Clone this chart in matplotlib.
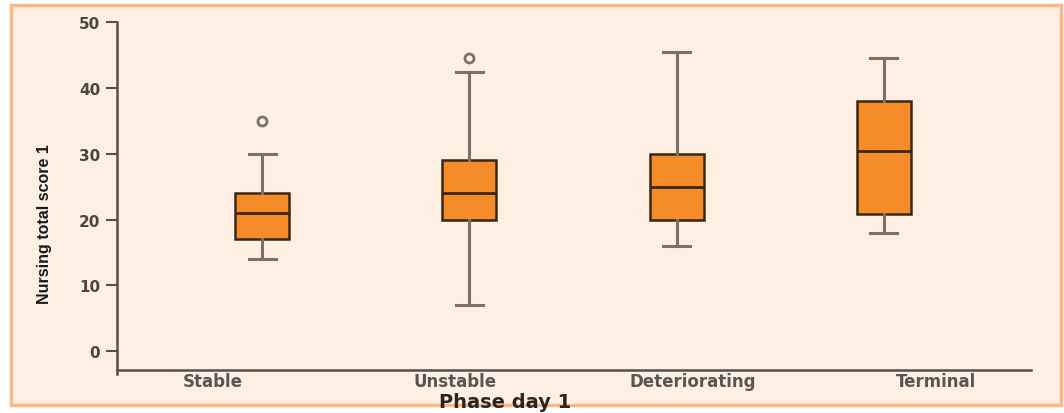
import numpy as np
import matplotlib.pyplot as plt
from matplotlib.patches import Rectangle

# ============================================================
# DATA
# ============================================================
phases = ['Stable', 'Unstable', 'Deteriorating', 'Terminal']
whisker_low = [14, 7, 16, 18]
q1 = [17, 20, 20, 20.8]
median = [21, 24, 25, 30.4]
q3 = [24, 29, 30, 38]
whisker_high = [30, 42.5, 45.5, 44.5]
outliers = [[35], [44.5], [], []]

# ============================================================
# STYLE
# ============================================================
box_color = '#F68B2A'
edge_color = '#3B2614'
whisker_color = '#7A716A'
axis_color = '#555049'
bg_color = '#FDF0E3'

fig = plt.figure(figsize=(10.64, 4.14), dpi=100)
fig.patch.set_facecolor('white')

# peach panel with orange frame, behind everything
frame = Rectangle((10.5 / 1064, 8 / 414), 1050 / 1064, 400 / 414,
                  transform=fig.transFigure, facecolor=bg_color,
                  edgecolor='#F7B98A', lw=2.5, zorder=-10)
fig.patches.append(frame)

ax = fig.add_axes([117 / 1064, 1 - 370.5 / 414, (1031 - 117) / 1064, (370.5 - 23.3) / 414])
ax.set_facecolor('none')
ax.set_zorder(1)

stats = []
for i, name in enumerate(phases):
    stats.append({
        'label': name,
        'whislo': whisker_low[i],
        'q1': q1[i],
        'med': median[i],
        'q3': q3[i],
        'whishi': whisker_high[i],
        'fliers': outliers[i],
    })

positions = np.arange(1, len(phases) + 1)
ax.bxp(stats, positions=positions, widths=0.26, patch_artist=True,
       showfliers=True,
       boxprops=dict(facecolor=box_color, edgecolor=edge_color, lw=1.8),
       medianprops=dict(color=edge_color, lw=2.0),
       whiskerprops=dict(color=whisker_color, lw=2.2),
       capprops=dict(color=whisker_color, lw=2.2),
       capwidths=0.13,
       flierprops=dict(marker='o', markersize=6.5, markerfacecolor='none',
                       markeredgecolor=whisker_color, markeredgewidth=2))

ax.set_xlim(0.30, 4.71)
ax.set_ylim(-2.8, 50)
ax.set_yticks([0, 10, 20, 30, 40, 50])

# category labels sit slightly apart from the boxes in the reference
label_pos = [0.76, 1.93, 3.08, 4.25]
ax.set_xticks(label_pos)
ax.set_xticklabels(phases, fontsize=12, fontweight='bold', color='#5a5550')
ax.tick_params(axis='x', length=0, pad=2)
ax.tick_params(axis='y', length=8, width=1.5, color=axis_color, labelsize=11,
               labelcolor='#4a4540', pad=4)
for lab in ax.get_yticklabels():
    lab.set_fontweight('bold')

for side in ['top', 'right']:
    ax.spines[side].set_visible(False)
ax.spines['left'].set_color(axis_color)
ax.spines['bottom'].set_color(axis_color)
ax.spines['left'].set_linewidth(1.8)
ax.spines['bottom'].set_linewidth(1.8)
ax.spines['left'].set_bounds(-3.5, 50)

fig.text(505 / 1064, 1 - 403 / 414, 'Phase day 1', ha='center', va='center',
         fontsize=14, fontweight='bold', color='#2a2520')
fig.text(45 / 1064, 1 - 224 / 414, 'Nursing total score 1', ha='center', va='center',
         rotation=90, fontsize=11.5, fontweight='bold', color='#1a1a1a',
         family=['Liberation Sans Narrow', 'Liberation Sans', 'DejaVu Sans'])

fig.savefig('out.png', dpi=100)
